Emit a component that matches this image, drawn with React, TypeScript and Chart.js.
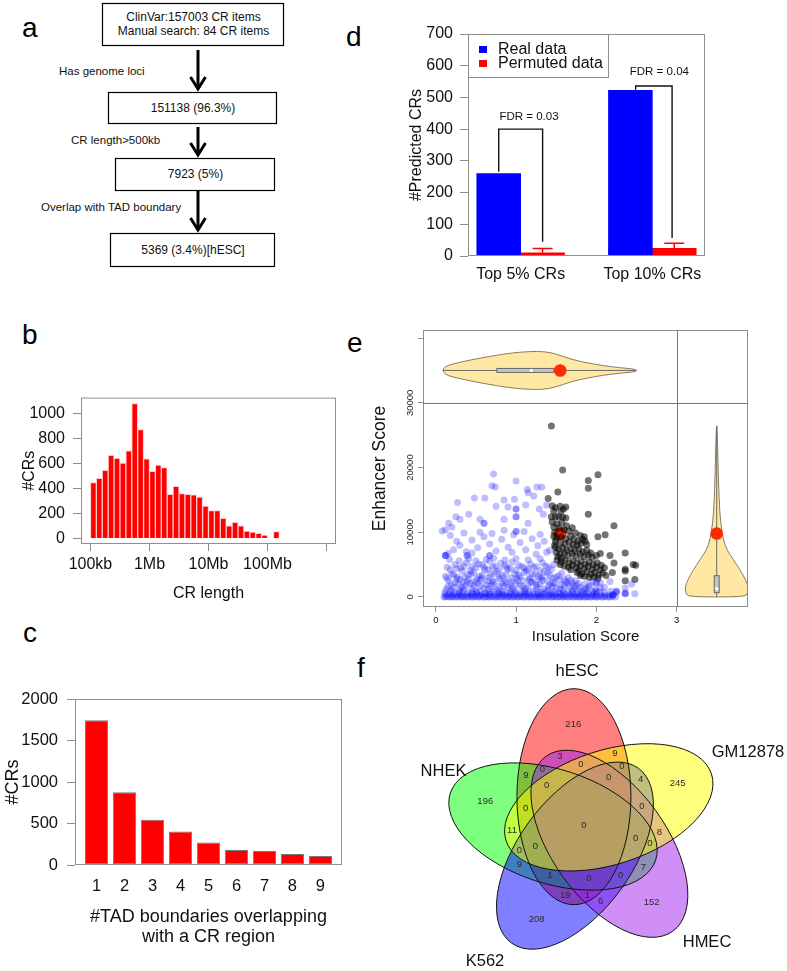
import React, { useEffect, useRef } from 'react';
import { Chart, registerables } from 'chart.js';

Chart.register(...registerables);

const FONT = "'Liberation Sans', Arial, Helvetica, sans-serif";
Chart.defaults.font.family = FONT;
Chart.defaults.color = '#111';

// ---------------- Panel a : flow chart ----------------
const FLOW_BOX_LINES = [
  ['ClinVar:157003 CR items', 'Manual search: 84 CR items'],
  ['151138 (96.3%)'],
  ['7923 (5%)'],
  ['5369 (3.4%)[hESC]'],
];
const FLOW_FILTER_LABELS = ['Has genome loci', 'CR length>500kb', 'Overlap with TAD boundary'];

// ---------------- Panel b : CR length histogram ----------------
const B_BIN_START = [5.0, 5.1, 5.2, 5.3, 5.4, 5.5, 5.6, 5.7, 5.8, 5.9, 6.0, 6.1, 6.2, 6.3, 6.4, 6.5,
  6.6, 6.7, 6.8, 6.9, 7.0, 7.1, 7.2, 7.3, 7.4, 7.5, 7.6, 7.7, 7.8, 7.9, 8.0, 8.1];
const B_BIN_WIDTH = 0.1;
const B_COUNTS = [448, 483, 546, 666, 642, 605, 703, 1080, 873, 639, 538, 589, 568, 355, 419, 361,
  355, 350, 332, 260, 225, 225, 162, 103, 130, 103, 61, 52, 42, 28, 4, 56];
const B_X_TICKS = [5, 6, 7, 8, 9];
const B_X_LABELS = ['100kb', '1Mb', '10Mb', '100Mb', ''];
const B_Y_TICKS = [0, 200, 400, 600, 800, 1000];

// ---------------- Panel c : TAD boundaries per CR ----------------
const C_CATEGORIES = ['1', '2', '3', '4', '5', '6', '7', '8', '9'];
const C_COUNTS = [1745, 877, 545, 404, 271, 182, 170, 133, 109];
const C_Y_TICKS = [0, 500, 1000, 1500, 2000];

// ---------------- Panel d : predicted CRs ----------------
const D_CATEGORIES = ['Top 5% CRs', 'Top 10% CRs'];
const D_GROUP_POS = [2, 5];
const D_SERIES = ['Real data', 'Permuted data'];
const D_REAL = [260, 522];
const D_PERMUTED = [10, 24];
const D_PERMUTED_UPPER = [24, 40];
const D_FDR_TEXT = ['FDR = 0.03', 'FDR = 0.04'];
const D_BRACKET_X = [[1.5, 2.5], [4.62, 5.45]];
const D_BRACKET_TOP = [400, 536];
const D_BRACKET_LEFT_END = [266, 524];
const D_BRACKET_RIGHT_END = [45, 57];
const D_FDR_POS = [[2.19, 438], [5.16, 580]];
const D_Y_TICKS = [0, 100, 200, 300, 400, 500, 600, 700];

// ---------------- Panel e : insulation vs enhancer score ----------------
type Pt = [number, number];
const E_BLUE: Pt[] = [
  [0.10, 0], [0.14, 80], [0.17, 0], [0.21, 50], [0.24, 0], [0.28, 100], [0.31, 0], [0.35, 40], [0.38, 0], [0.42, 90],
  [0.45, 0], [0.49, 60], [0.52, 0], [0.56, 110], [0.59, 0], [0.63, 30], [0.66, 0], [0.70, 80], [0.73, 0], [0.77, 50],
  [0.80, 0], [0.84, 120], [0.87, 0], [0.91, 40], [0.94, 0], [0.98, 90], [1.01, 0], [1.05, 60], [1.08, 0], [1.12, 100],
  [1.15, 0], [1.19, 30], [1.22, 0], [1.26, 80], [1.29, 0], [1.33, 50], [1.36, 0], [1.40, 110], [1.43, 0], [1.47, 40],
  [1.50, 0], [1.54, 90], [1.57, 0], [1.61, 60], [1.64, 0], [1.68, 100], [1.71, 0], [1.75, 30], [1.78, 0], [1.82, 80],
  [1.85, 0], [1.89, 50], [1.92, 0], [1.96, 120], [1.99, 0], [2.03, 40], [2.07, 0], [2.11, 90], [2.15, 0], [2.20, 60], [2.24, 0],
  [0.12, 0], [0.19, 0], [0.26, 0], [0.33, 0], [0.40, 0], [0.47, 0], [0.54, 0], [0.61, 0], [0.68, 0], [0.75, 0],
  [0.82, 0], [0.89, 0], [0.96, 0], [1.03, 0], [1.10, 0], [1.17, 0], [1.24, 0], [1.31, 0], [1.38, 0], [1.45, 0],
  [1.52, 0], [1.59, 0], [1.66, 0], [1.73, 0], [1.80, 0], [1.87, 0], [1.94, 0], [2.01, 0], [2.09, 0], [2.17, 0],
  [2.36, 600], [2.36, 500], [2.36, 550],
  [0.12, 350], [0.16, 420], [0.20, 300], [0.26, 380], [0.30, 450], [0.33, 320], [0.39, 400], [0.44, 350], [0.47, 430], [0.53, 310],
  [0.57, 390], [0.61, 450], [0.65, 340], [0.68, 410], [0.74, 300], [0.79, 380], [0.82, 440], [0.86, 330], [0.92, 400], [0.96, 360],
  [1.00, 450], [1.04, 310], [1.10, 390], [1.13, 430], [1.17, 340], [1.23, 410], [1.27, 300], [1.31, 380], [1.35, 440], [1.41, 330],
  [1.45, 400], [1.49, 360], [1.55, 450], [1.58, 310], [1.62, 390], [1.67, 430], [1.72, 340], [1.76, 410], [1.80, 300], [1.86, 380],
  [1.90, 440], [1.95, 330], [2.00, 400], [2.05, 360], [2.11, 300], [2.20, 350],
  [0.11, 700], [0.18, 850], [0.23, 620], [0.29, 780], [0.34, 900], [0.40, 650], [0.46, 820], [0.51, 700], [0.55, 880], [0.62, 640],
  [0.67, 760], [0.72, 900], [0.78, 680], [0.83, 830], [0.89, 610], [0.93, 750], [0.99, 890], [1.06, 660], [1.11, 800], [1.16, 720],
  [1.21, 870], [1.28, 630], [1.32, 780], [1.38, 900], [1.44, 690], [1.48, 840], [1.53, 620], [1.59, 760], [1.65, 880], [1.70, 700],
  [1.77, 820], [1.83, 650], [1.88, 790], [1.97, 720], [2.04, 860], [2.25, 900], [2.21, 300],
  [0.20, 1000], [0.35, 1300], [0.50, 900], [0.65, 1200], [0.80, 950], [0.95, 1300], [1.10, 1000], [1.25, 1200], [1.40, 950], [1.55, 1250],
  [1.70, 1000], [1.85, 1100], [2.00, 800], [2.10, 700],
  [0.13, 1200], [0.22, 1500], [0.30, 1100], [0.37, 1800], [0.45, 1300], [0.52, 2100], [0.60, 1400], [0.68, 1700], [0.75, 1200], [0.83, 2000],
  [0.90, 1500], [0.97, 1100], [1.05, 1800], [1.12, 1300], [1.20, 2200], [1.27, 1500], [1.35, 1200], [1.42, 1900], [1.50, 1400], [1.58, 1100],
  [1.66, 1700], [1.73, 1300], [1.81, 1000], [1.90, 1500], [1.99, 1200], [2.05, 2200],
  [0.15, 1600], [0.24, 2200], [0.32, 1500], [0.39, 2300], [0.47, 1800], [0.56, 2600], [0.63, 1900], [0.71, 2500], [0.78, 1700], [0.86, 2300],
  [0.93, 1900], [1.02, 2500], [1.08, 1600], [1.18, 2400], [1.25, 1900], [1.33, 2500], [1.40, 1700], [1.48, 2100], [1.56, 1800], [1.64, 2100],
  [1.72, 1600], [1.80, 1500], [1.88, 1300], [1.96, 900],
  [0.16, 2500], [0.26, 2800], [0.34, 2300], [0.41, 2700], [0.49, 2400], [0.57, 2900], [0.64, 2500], [0.72, 2300], [0.79, 2800], [0.87, 2600],
  [0.94, 2300], [1.01, 2900], [1.09, 2500], [1.16, 2700], [1.24, 2400], [1.31, 2900], [1.39, 2600], [1.46, 2300], [1.54, 2700], [1.62, 2400],
  [1.70, 2200], [1.78, 2100], [1.86, 2000], [1.95, 2300],
  [0.19, 1900], [0.28, 2000], [0.43, 2100], [0.55, 1700], [0.70, 2000], [0.85, 1600], [1.00, 2000], [1.15, 1700], [1.30, 2000], [1.45, 1600],
  [1.60, 1900], [1.75, 1800], [1.92, 1800], [2.10, 1500], [2.18, 900], [2.25, 700],
  [0.14, 2900], [0.22, 3400], [0.30, 2700], [0.36, 3100], [0.44, 3600], [0.51, 2800], [0.58, 3400], [0.66, 3000], [0.73, 3600], [0.80, 3100],
  [0.88, 3500], [0.95, 2900], [1.03, 3400], [1.10, 3800], [1.17, 3000], [1.24, 3500], [1.32, 3100], [1.39, 3700], [1.46, 2900], [1.53, 3300],
  [1.60, 2700], [1.68, 2600], [1.74, 2500],
  [0.12, 3200], [0.20, 3600], [0.27, 3100], [0.33, 4000], [0.40, 3400], [0.47, 3800], [0.54, 3200], [0.61, 4200], [0.68, 3500], [0.76, 3900],
  [0.83, 3300], [0.90, 4300], [0.98, 3600], [1.05, 3100], [1.13, 4000], [1.20, 3500], [1.28, 3200], [1.35, 3900], [1.42, 3400], [1.50, 3100],
  [1.57, 3700], [1.65, 3000],
  [0.18, 4200], [0.26, 4400], [0.35, 4800], [0.43, 4100], [0.50, 4500], [0.58, 5000], [0.65, 4300], [0.71, 4600], [0.79, 4200], [0.86, 4900],
  [0.93, 4400], [1.00, 4100], [1.07, 4700], [1.15, 4300], [1.22, 4500], [1.30, 4100], [1.37, 4800], [1.44, 4300],
  [0.14, 4600], [0.24, 5000], [0.31, 4500], [0.38, 5300], [0.45, 4700], [0.53, 5100], [0.60, 4600], [0.67, 5500], [0.74, 4800], [0.81, 5200],
  [0.88, 4600], [0.95, 5400], [1.03, 4900], [1.10, 4500], [1.18, 5100], [1.25, 4700], [1.33, 5300], [1.40, 4600], [1.47, 5000],
  [0.17, 5800], [0.29, 5600], [0.41, 5900], [0.50, 5600], [0.63, 5800], [0.72, 6000], [0.86, 5700], [1.00, 5900], [1.15, 5700], [1.30, 5900],
  [0.12, 6400], [0.12, 6400], [0.12, 6400], [0.39, 6400], [0.39, 6400], [0.67, 6400], [0.67, 6400],
  [0.15, 6700], [0.22, 7300], [0.30, 8000], [0.38, 7000], [0.45, 8800], [0.52, 7600], [0.60, 9300], [0.67, 8200], [0.75, 7100], [0.82, 8900],
  [0.90, 7700], [0.97, 9600], [1.05, 8400], [1.12, 7300], [1.20, 9000], [1.27, 7900], [1.35, 8600], [1.42, 7200], [0.18, 9500], [0.26, 8600],
  [0.35, 9900], [0.55, 10000], [0.70, 9800], [0.85, 10300], [1.10, 10100], [1.30, 9700], [0.12, 10400], [0.20, 10800], [0.08, 10200], [0.45, 6800],
  [0.95, 6900], [1.25, 6600], [1.38, 6900],
  [1.00, 13600], [1.00, 13600], [1.00, 12400], [1.00, 12400], [1.00, 10100], [1.00, 10100], [0.60, 11400], [0.60, 11400],
  [0.72, 19000], [0.70, 17200], [0.74, 17000], [1.00, 17900], [1.14, 16600], [1.15, 16100], [1.26, 17000], [1.32, 17000], [0.27, 14600], [0.48, 15300],
  [0.61, 15300], [0.75, 14000], [0.98, 15100], [1.12, 14200], [1.29, 13600], [1.34, 12800], [0.25, 12400], [0.41, 12800], [0.16, 11400], [0.30, 12000],
  [0.55, 12000], [0.85, 12000], [1.15, 11400], [0.90, 13900], [1.38, 14200], [1.22, 15600], [0.85, 15000],
  [2.00, 2200], [2.00, 2200], [2.05, 1400], [2.17, 2400], [2.36, 1400], [2.44, 2000], [2.48, 500], [2.25, 900], [2.17, 300], [2.21, 300],
];
const E_BLACK: Pt[] = [
  [1.44, 26400], [1.58, 19600], [2.02, 18900], [1.90, 18000], [1.90, 16800], [1.52, 16200], [1.40, 15200], [1.90, 12800], [2.22, 11000], [2.11, 9600], [2.02, 9300],
  [1.45, 14100], [1.49, 13800], [1.55, 14000], [1.59, 13600], [1.62, 13900], [1.47, 13300], [1.56, 13200], [1.44, 12400], [1.49, 12400], [1.53, 12400], [1.58, 12300], [1.62, 12200],
  [1.45, 11600], [1.51, 11300], [1.57, 11500], [1.63, 11000], [1.47, 10800], [1.54, 10600], [1.60, 10400], [1.66, 10200], [1.48, 10000], [1.70, 10700], [1.74, 9900], [1.80, 9500], [1.85, 9300], [1.83, 8900],
  [1.47, 9400], [1.50, 9100], [1.56, 9300], [1.62, 9000], [1.68, 9400], [1.72, 8900], [1.77, 8600], [1.49, 8600], [1.55, 8400], [1.61, 8200], [1.66, 8500], [1.71, 8100], [1.76, 8000], [1.81, 8300], [1.86, 8600], [1.88, 8100], [1.48, 8000],
  [1.49, 7700], [1.53, 7400], [1.58, 7600], [1.63, 7200], [1.68, 7500], [1.73, 7100], [1.78, 7400], [1.83, 7000], [1.88, 7200], [1.93, 6800], [1.50, 6900], [1.55, 6600], [1.60, 6800],
  [1.65, 6400], [1.70, 6700], [1.75, 6300], [1.80, 6600], [1.85, 6200], [1.90, 6500], [1.95, 6100], [2.00, 6400], [1.52, 6200], [1.57, 6000], [2.05, 6700], [2.17, 6400], [2.36, 6800],
  [1.51, 5700], [1.56, 5400], [1.61, 5700], [1.66, 5300], [1.71, 5600], [1.76, 5200], [1.81, 5500], [1.86, 5100], [1.91, 5400], [1.96, 5000], [2.01, 5300], [2.06, 4900],
  [1.55, 5000], [1.60, 4800], [1.65, 4600], [1.70, 4900], [1.75, 4500], [1.80, 4800], [1.85, 4400], [1.90, 4700], [1.95, 4300], [2.00, 4600], [2.05, 4200], [2.10, 4500],
  [2.22, 5250], [2.36, 4300], [2.36, 4000], [2.46, 5000], [2.49, 4900], [1.68, 4200], [1.78, 4100],
  [1.76, 3800], [1.82, 3600], [1.88, 3900], [1.93, 3500], [1.98, 3800], [2.03, 3400], [2.08, 3700], [1.85, 3200], [1.91, 3000], [1.97, 3100], [2.02, 2900], [1.80, 3300],
  [2.12, 3300], [2.20, 3800], [2.48, 2700], [2.36, 2500],
];
const E_HIGHLIGHT: Pt[] = [[1.55, 9800], [1.55, 35000], [3.5, 9800]];
const E_TOP_VIOLIN_CENTER = 35000;
const E_TOP_VIOLIN_X = [0.09, 0.34, 0.55, 0.76, 0.96, 1.17, 1.34, 1.46, 1.59, 1.71, 1.88, 2.09, 2.29, 2.50];
const E_TOP_VIOLIN_HALF = [620, 1390, 1900, 2360, 2730, 2930, 2930, 2670, 2160, 1650, 1190, 730, 420, 200];
const E_TOP_BOX = [0.09, 0.76, 1.19, 1.47, 2.5];
const E_SIDE_VIOLIN_CENTER = 3.5;
const E_SIDE_VIOLIN_Y = [0, 600, 1500, 2670, 4210, 5760, 7300, 8840, 11400, 13980, 19130, 26430];
const E_SIDE_VIOLIN_HALF = [0.35, 0.385, 0.395, 0.36, 0.29, 0.208, 0.125, 0.083, 0.05, 0.034, 0.019, 0.006];
const E_SIDE_BOX = [0, 660, 1280, 3290, 26430];
const E_X_TICKS = [0, 1, 2, 3];
const E_Y_TICKS = [0, 10000, 20000, 30000, 40000];
const E_Y_LABELED = [0, 10000, 20000, 30000];

// ---------------- Panel f : Venn diagram ----------------
const VENN_SETS = ['hESC', 'GM12878', 'HMEC', 'K562', 'NHEK'];
const VENN_COLORS = ['rgba(255,0,0,0.5)', 'rgba(255,255,0,0.5)', 'rgba(160,32,240,0.5)', 'rgba(0,0,255,0.5)', 'rgba(0,255,0,0.5)'];
const VENN_FILL_ORDER = [0, 4, 3, 2, 1];
const VENN_COUNTS = [216, 245, 152, 208, 196, 3, 9, 0, 0, 0, 9, 0, 4, 0, 0, 0, 0, 11, 8, 0, 0, 0, 0, 9, 7, 1, 0, 0, 19, 1, 6];
const VENN_COUNT_POS: Pt[] = [
  [-10.7, 102], [93.7, 42.7], [67.7, -76.7], [-47.3, -93.3], [-98.7, 24.3],
  [-24, 70], [31, 72.7], [-3, 62], [38, 59.3], [-41.7, 56.7], [-58, 51], [24.7, 48.3], [56.7, 46.7], [-37.3, 40.3],
  [58, 20], [-58.3, 17.7], [0, 0.3], [-72, -4], [75.3, -6], [51.7, -12.3], [66, -17.3], [-48.7, -20.7], [-64.7, -24],
  [-64.7, -38.3], [59.3, -41.3], [-34, -49], [36.7, -49], [5, -52.3], [-18.7, -69], [3.3, -69], [16.7, -75],
];
const VENN_SET_LABEL_POS: Pt[] = [[-7, 155], [164, 74], [123, -116], [-99, -135], [-140.5, 55]];
const VENN_GEOM = { offset: 31, semiMajor: 108, semiMinor: 57, offsetAngle: 109, axisAngle: 90, step: -72 };

// ---------------- layout ----------------
const GRID = '#8e8e8e';
const PANEL_B = { left: 0, top: 380, width: 380, height: 230 };
const PANEL_C = { left: 0, top: 660, width: 380, height: 311 };
const PANEL_D = { left: 380, top: 0, width: 407, height: 300 };
const PANEL_E = { left: 360, top: 320, width: 427, height: 330 };
const PANEL_F = { left: 380, top: 650, width: 407, height: 321 };

const PANEL_LETTERS = [
  { t: 'a', x: 22, y: 37 }, { t: 'b', x: 22, y: 344 }, { t: 'c', x: 23, y: 642 },
  { t: 'd', x: 346, y: 46 }, { t: 'e', x: 347, y: 352 }, { t: 'f', x: 357, y: 677 },
];
const FLOW_BOXES = [
  { x: 102, y: 3, w: 181, h: 42 }, { x: 108, y: 92, w: 168, h: 31 },
  { x: 115, y: 158, w: 159, h: 32 }, { x: 110, y: 233, w: 164, h: 33 },
];
const FLOW_ARROWS = [{ y1: 50, y2: 89 }, { y1: 127, y2: 155 }, { y1: 191, y2: 230 }];
const FLOW_ARROW_X = 198;
const FLOW_LABEL_POS = [{ x: 59, y: 71 }, { x: 71, y: 140 }, { x: 41, y: 207 }];

// ---------------- helpers ----------------
function baseOptions(padding: any) {
  return {
    animation: false,
    responsive: false,
    maintainAspectRatio: false,
    devicePixelRatio: 1,
    events: [],
    layout: { padding },
    plugins: { legend: { display: false }, tooltip: { enabled: false }, title: { display: false } },
  };
}

function axis(o: any) {
  return {
    type: 'linear',
    display: true,
    min: o.min,
    max: o.max,
    offset: false,
    afterBuildTicks: (s: any) => { s.ticks = o.ticks.map((v: number) => ({ value: v })); },
    afterFit: (s: any) => {
      if (o.width != null) s.width = o.width;
      if (o.height != null) s.height = o.height;
    },
    grid: {
      display: true, offset: false, drawOnChartArea: false,
      drawTicks: o.tickLength > 0, tickLength: o.tickLength || 0, color: GRID, lineWidth: 1,
    },
    border: { display: false },
    ticks: {
      display: o.showLabels !== false, autoSkip: false, maxRotation: 0, minRotation: 0,
      padding: o.pad || 0, font: { size: o.fontSize || 16 }, color: '#111',
      callback: o.label || ((v: any) => String(v)),
    },
    title: o.title
      ? { display: true, text: o.title, color: '#111', font: { size: o.titleSize, lineHeight: o.titleLH || 1.2 }, padding: o.titlePad }
      : { display: false },
  };
}

const framePlugin = {
  id: 'frame',
  afterDatasetsDraw(chart: any) {
    const { ctx, chartArea: a } = chart;
    ctx.save();
    ctx.strokeStyle = GRID;
    ctx.lineWidth = 1;
    ctx.strokeRect(a.left + 0.5, a.top + 0.5, a.right - a.left - 1, a.bottom - a.top - 1);
    ctx.restore();
  },
};

function smoothClosed(ctx: CanvasRenderingContext2D, pts: number[][]) {
  const n = pts.length;
  const mid = (p: number[], q: number[]) => [(p[0] + q[0]) / 2, (p[1] + q[1]) / 2];
  const m0 = mid(pts[n - 1], pts[0]);
  ctx.beginPath();
  ctx.moveTo(m0[0], m0[1]);
  for (let i = 0; i < n; i++) {
    const p = pts[i];
    const m = mid(p, pts[(i + 1) % n]);
    ctx.quadraticCurveTo(p[0], p[1], m[0], m[1]);
  }
  ctx.closePath();
}

// ---------------- chart builders ----------------
function buildB() {
  return {
    type: 'bar',
    data: {
      datasets: [{
        data: B_BIN_START.map((s, i) => ({ x: s + B_BIN_WIDTH / 2, y: B_COUNTS[i] })),
        backgroundColor: '#ff0000',
        borderColor: '#ffc8c8',
        borderWidth: 1,
        borderSkipped: 'bottom',
        grouped: false,
        barPercentage: 1,
        categoryPercentage: 1,
      }],
    },
    options: {
      ...baseOptions({ top: 17, right: 44, left: 0, bottom: 0 }),
      scales: {
        x: axis({
          min: 4.84, max: 9.16, ticks: B_X_TICKS, tickLength: 7, pad: 4, fontSize: 16, height: 66,
          label: (v: number) => B_X_LABELS[B_X_TICKS.indexOf(v)] ?? '',
          title: 'CR length', titleSize: 16, titlePad: { top: 0, bottom: 7 },
        }),
        y: axis({
          min: -43, max: 1128, ticks: B_Y_TICKS, tickLength: 8, pad: 8, fontSize: 16, width: 81,
          title: '#CRs', titleSize: 16, titlePad: { top: 20, bottom: 0 },
        }),
      },
    },
    plugins: [framePlugin],
  };
}

function buildC() {
  return {
    type: 'bar',
    data: {
      datasets: [{
        data: C_COUNTS.map((v, i) => ({ x: i + 1, y: v })),
        backgroundColor: '#ff0000',
        borderColor: '#777777',
        borderWidth: 1,
        borderSkipped: false,
        grouped: false,
        barPercentage: 0.833,
        categoryPercentage: 1,
      }],
    },
    options: {
      ...baseOptions({ top: 39, right: 38, left: 0, bottom: 0 }),
      scales: {
        x: axis({
          min: 0.23, max: 9.77, ticks: C_CATEGORIES.map((_, i) => i + 1), tickLength: 0, pad: 12, fontSize: 16.5, height: 106,
          label: (v: number) => C_CATEGORIES[v - 1] ?? '',
          title: ['#TAD boundaries overlapping', 'with a CR region'], titleSize: 18, titleLH: 1.1,
          titlePad: { top: 0, bottom: 24 },
        }),
        y: axis({
          min: 0, max: 2000, ticks: C_Y_TICKS, tickLength: 8, pad: 9, fontSize: 16.5, width: 75,
          title: '#CRs', titleSize: 18, titlePad: { top: 2, bottom: 0 },
        }),
      },
    },
    plugins: [framePlugin],
  };
}

const dExtras = {
  id: 'dExtras',
  afterDatasetsDraw(chart: any) {
    const { ctx, chartArea: a, scales: { x, y } } = chart;
    ctx.save();
    ctx.strokeStyle = '#ff0000';
    ctx.lineWidth = 1.5;
    D_PERMUTED.forEach((v, i) => {
      const px = x.getPixelForValue(D_GROUP_POS[i] + 0.5);
      const yt = y.getPixelForValue(D_PERMUTED_UPPER[i]);
      ctx.beginPath();
      ctx.moveTo(px, y.getPixelForValue(v));
      ctx.lineTo(px, yt);
      ctx.moveTo(px - 10, yt);
      ctx.lineTo(px + 10, yt);
      ctx.stroke();
    });
    ctx.strokeStyle = '#111';
    ctx.lineWidth = 1.4;
    D_BRACKET_X.forEach(([x1, x2], i) => {
      const p1 = x.getPixelForValue(x1);
      const p2 = x.getPixelForValue(x2);
      const yt = y.getPixelForValue(D_BRACKET_TOP[i]);
      ctx.beginPath();
      ctx.moveTo(p1, y.getPixelForValue(D_BRACKET_LEFT_END[i]));
      ctx.lineTo(p1, yt);
      ctx.lineTo(p2, yt);
      ctx.lineTo(p2, y.getPixelForValue(D_BRACKET_RIGHT_END[i]));
      ctx.stroke();
    });
    ctx.fillStyle = '#111';
    ctx.font = `11.5px ${FONT}`;
    ctx.textAlign = 'center';
    ctx.textBaseline = 'middle';
    D_FDR_TEXT.forEach((t, i) => {
      ctx.fillText(t, x.getPixelForValue(D_FDR_POS[i][0]), y.getPixelForValue(D_FDR_POS[i][1]));
    });
    ctx.strokeStyle = GRID;
    ctx.lineWidth = 1;
    ctx.strokeRect(a.left + 0.5, a.top + 0.5, 140, 43);
    const colors = ['#0000ff', '#ff0000'];
    ctx.font = `16px ${FONT}`;
    ctx.textAlign = 'left';
    D_SERIES.forEach((name, i) => {
      const cy = a.top + 15.5 + i * 14;
      ctx.fillStyle = colors[i];
      ctx.fillRect(a.left + 11, cy - 3.5, 8, 7);
      ctx.fillStyle = '#111';
      ctx.fillText(name, a.left + 30, cy);
    });
    ctx.restore();
  },
};

function buildD() {
  return {
    type: 'bar',
    data: {
      datasets: [
        {
          label: D_SERIES[0],
          data: D_REAL.map((v, i) => ({ x: D_GROUP_POS[i] - 0.5, y: v })),
          backgroundColor: '#0000ff', borderWidth: 0, grouped: false, barPercentage: 1, categoryPercentage: 1,
        },
        {
          label: D_SERIES[1],
          data: D_PERMUTED.map((v, i) => ({ x: D_GROUP_POS[i] + 0.5, y: v })),
          backgroundColor: '#ff0000', borderWidth: 0, grouped: false, barPercentage: 1, categoryPercentage: 1,
        },
      ],
    },
    options: {
      ...baseOptions({ top: 34, right: 82, left: 0, bottom: 0 }),
      scales: {
        x: axis({
          min: 0.8, max: 6.2, ticks: D_GROUP_POS, tickLength: 0, pad: 9, fontSize: 16, height: 44,
          label: (v: number) => D_CATEGORIES[D_GROUP_POS.indexOf(v)] ?? '',
        }),
        y: axis({
          min: 0, max: 700, ticks: D_Y_TICKS, tickLength: 8, pad: 7, fontSize: 16, width: 88,
          title: '#Predicted CRs', titleSize: 16, titlePad: { top: 27, bottom: 0 },
        }),
      },
    },
    plugins: [framePlugin, dExtras],
  };
}

const eViolins = {
  id: 'eViolins',
  beforeDatasetsDraw(chart: any) {
    const { ctx, chartArea: a, scales: { x, y } } = chart;
    ctx.save();
    ctx.beginPath();
    ctx.rect(a.left, a.top, a.right - a.left, a.bottom - a.top);
    ctx.clip();
    ctx.fillStyle = '#ffe8a3';
    ctx.strokeStyle = '#7d6d52';
    ctx.lineWidth = 0.9;
    const top: number[][] = [];
    E_TOP_VIOLIN_X.forEach((vx, i) => top.push([x.getPixelForValue(vx), y.getPixelForValue(E_TOP_VIOLIN_CENTER + E_TOP_VIOLIN_HALF[i])]));
    for (let i = E_TOP_VIOLIN_X.length - 1; i >= 0; i--) {
      top.push([x.getPixelForValue(E_TOP_VIOLIN_X[i]), y.getPixelForValue(E_TOP_VIOLIN_CENTER - E_TOP_VIOLIN_HALF[i])]);
    }
    smoothClosed(ctx, top);
    ctx.fill();
    ctx.stroke();
    const side: number[][] = [];
    E_SIDE_VIOLIN_Y.forEach((vy, i) => side.push([x.getPixelForValue(E_SIDE_VIOLIN_CENTER - E_SIDE_VIOLIN_HALF[i]), y.getPixelForValue(vy)]));
    for (let i = E_SIDE_VIOLIN_Y.length - 1; i >= 0; i--) {
      side.push([x.getPixelForValue(E_SIDE_VIOLIN_CENTER + E_SIDE_VIOLIN_HALF[i]), y.getPixelForValue(E_SIDE_VIOLIN_Y[i])]);
    }
    smoothClosed(ctx, side);
    ctx.fill();
    ctx.stroke();
    const cy = y.getPixelForValue(E_TOP_VIOLIN_CENTER);
    ctx.strokeStyle = '#6a6a6a';
    ctx.lineWidth = 1;
    ctx.beginPath();
    ctx.moveTo(x.getPixelForValue(E_TOP_BOX[0]), cy);
    ctx.lineTo(x.getPixelForValue(E_TOP_BOX[4]), cy);
    ctx.stroke();
    ctx.fillStyle = '#c4c4c4';
    const q1 = x.getPixelForValue(E_TOP_BOX[1]);
    const q3 = x.getPixelForValue(E_TOP_BOX[3]);
    ctx.fillRect(q1, cy - 2, q3 - q1, 4);
    ctx.strokeRect(q1, cy - 2, q3 - q1, 4);
    ctx.fillStyle = '#ffffff';
    ctx.beginPath();
    ctx.arc(x.getPixelForValue(E_TOP_BOX[2]), cy, 1.6, 0, Math.PI * 2);
    ctx.fill();
    const cx = x.getPixelForValue(E_SIDE_VIOLIN_CENTER);
    ctx.beginPath();
    ctx.moveTo(cx, y.getPixelForValue(E_SIDE_BOX[0]));
    ctx.lineTo(cx, y.getPixelForValue(E_SIDE_BOX[4]));
    ctx.stroke();
    ctx.fillStyle = '#c4c4c4';
    const b1 = y.getPixelForValue(E_SIDE_BOX[1]);
    const b3 = y.getPixelForValue(E_SIDE_BOX[3]);
    ctx.fillRect(cx - 2.5, b3, 5, b1 - b3);
    ctx.strokeRect(cx - 2.5, b3, 5, b1 - b3);
    ctx.fillStyle = '#ffffff';
    ctx.beginPath();
    ctx.arc(cx, y.getPixelForValue(E_SIDE_BOX[2]), 1.6, 0, Math.PI * 2);
    ctx.fill();
    ctx.restore();
  },
  afterDatasetsDraw(chart: any) {
    const { ctx, chartArea: a, scales: { x, y } } = chart;
    ctx.save();
    ctx.strokeStyle = '#777';
    ctx.lineWidth = 1;
    const px = Math.round(x.getPixelForValue(3)) + 0.5;
    const py = Math.round(y.getPixelForValue(30000)) + 0.5;
    ctx.beginPath();
    ctx.moveTo(px, a.top);
    ctx.lineTo(px, a.bottom);
    ctx.moveTo(a.left, py);
    ctx.lineTo(a.right, py);
    ctx.stroke();
    ctx.fillStyle = '#222';
    ctx.font = `9.5px ${FONT}`;
    ctx.textAlign = 'center';
    ctx.textBaseline = 'middle';
    E_Y_LABELED.forEach((v) => {
      ctx.save();
      ctx.translate(a.left - 13, y.getPixelForValue(v));
      ctx.rotate(-Math.PI / 2);
      ctx.fillText(String(v), 0, 0);
      ctx.restore();
    });
    ctx.restore();
  },
};

function buildE() {
  const pts = (arr: Pt[]) => arr.map(([x, y]) => ({ x, y }));
  return {
    type: 'scatter',
    data: {
      datasets: [
        { label: 'other CRs', data: pts(E_BLUE), pointRadius: 3.5, backgroundColor: 'rgba(0,0,255,0.26)', pointBackgroundColor: 'rgba(0,0,255,0.26)', pointBorderWidth: 0, borderWidth: 0 },
        { label: 'predicted CRs', data: pts(E_BLACK), pointRadius: 3.5, backgroundColor: 'rgba(0,0,0,0.55)', pointBackgroundColor: 'rgba(0,0,0,0.55)', pointBorderWidth: 0, borderWidth: 0 },
        { label: 'highlight', data: pts(E_HIGHLIGHT), pointRadius: 6.3, backgroundColor: '#ff2a00', pointBackgroundColor: '#ff2a00', pointBorderWidth: 0, borderWidth: 0 },
      ],
    },
    options: {
      ...baseOptions({ top: 10, right: 39, left: 0, bottom: 0 }),
      scales: {
        x: axis({
          min: -0.16, max: 3.89, ticks: E_X_TICKS, tickLength: 5, pad: 3, fontSize: 9.5, height: 43,
          title: 'Insulation Score', titleSize: 15, titlePad: { top: 0, bottom: 4 },
        }),
        y: axis({
          min: -1550, max: 41250, ticks: E_Y_TICKS, tickLength: 5, showLabels: false, width: 63,
          title: 'Enhancer Score', titleSize: 17.5, titlePad: { top: 9.5, bottom: 0 },
        }),
      },
    },
    plugins: [framePlugin, eViolins],
  };
}

const vennPlugin = {
  id: 'venn',
  beforeDatasetsDraw(chart: any) {
    const { ctx, scales: { x, y } } = chart;
    const ux = x.getPixelForValue(1) - x.getPixelForValue(0);
    const uy = y.getPixelForValue(0) - y.getPixelForValue(1);
    const rad = Math.PI / 180;
    const shapes = VENN_SETS.map((_, k) => {
      const off = (VENN_GEOM.offsetAngle + VENN_GEOM.step * k) * rad;
      const rot = (VENN_GEOM.axisAngle + VENN_GEOM.step * k) * rad;
      return {
        cx: x.getPixelForValue(VENN_GEOM.offset * Math.cos(off)),
        cy: y.getPixelForValue(VENN_GEOM.offset * Math.sin(off)),
        rot,
      };
    });
    const path = (k: number) => {
      const s = shapes[k];
      ctx.beginPath();
      ctx.ellipse(s.cx, s.cy, VENN_GEOM.semiMajor * ux, VENN_GEOM.semiMinor * uy, -s.rot, 0, Math.PI * 2);
    };
    ctx.save();
    VENN_FILL_ORDER.forEach((k) => {
      path(k);
      ctx.fillStyle = VENN_COLORS[k];
      ctx.fill();
    });
    ctx.strokeStyle = '#111';
    ctx.lineWidth = 1;
    VENN_FILL_ORDER.forEach((k) => {
      path(k);
      ctx.stroke();
    });
    ctx.fillStyle = '#2a2a2a';
    ctx.font = `9.5px ${FONT}`;
    ctx.textAlign = 'center';
    ctx.textBaseline = 'middle';
    VENN_COUNTS.forEach((c, i) => {
      ctx.fillText(String(c), x.getPixelForValue(VENN_COUNT_POS[i][0]), y.getPixelForValue(VENN_COUNT_POS[i][1]));
    });
    ctx.fillStyle = '#111';
    ctx.font = `16.5px ${FONT}`;
    VENN_SETS.forEach((name, i) => {
      ctx.fillText(name, x.getPixelForValue(VENN_SET_LABEL_POS[i][0]), y.getPixelForValue(VENN_SET_LABEL_POS[i][1]));
    });
    ctx.restore();
  },
};

function buildF() {
  return {
    type: 'scatter',
    data: {
      datasets: [{ data: VENN_COUNT_POS.map(([x, y]) => ({ x, y })), pointRadius: 0, borderWidth: 0 }],
    },
    options: {
      ...baseOptions(0),
      scales: {
        x: { type: 'linear', display: false, min: -204, max: 203 },
        y: { type: 'linear', display: false, min: -145, max: 176 },
      },
    },
    plugins: [vennPlugin],
  };
}

// ---------------- components ----------------
function ChartCanvas({ box, build }: { box: any; build: () => any }) {
  const ref = useRef<HTMLCanvasElement>(null);
  useEffect(() => {
    const chart = new Chart(ref.current as HTMLCanvasElement, build() as any);
    return () => chart.destroy();
  }, [build]);
  return (
    <canvas
      ref={ref}
      width={box.width}
      height={box.height}
      style={{ position: 'absolute', left: box.left, top: box.top, width: box.width, height: box.height }}
    />
  );
}

function FlowChart() {
  return (
    <svg width={787} height={971} style={{ position: 'absolute', left: 0, top: 0 }} fontFamily={FONT}>
      {PANEL_LETTERS.map((p) => (
        <text key={p.t} x={p.x} y={p.y} fontSize={28} fill="#000">{p.t}</text>
      ))}
      {FLOW_BOXES.map((b, i) => {
        const lines = FLOW_BOX_LINES[i];
        const cy = b.y + b.h / 2;
        return (
          <g key={i}>
            <rect x={b.x + 0.5} y={b.y + 0.5} width={b.w} height={b.h} fill="#fff" stroke="#000" strokeWidth={1.2} />
            {lines.map((t, j) => (
              <text key={j} x={b.x + b.w / 2 + 1} y={cy + (j - (lines.length - 1) / 2) * 13.5} fontSize={12}
                textAnchor="middle" dominantBaseline="central" fill="#111">{t}</text>
            ))}
          </g>
        );
      })}
      {FLOW_ARROWS.map((a, i) => (
        <g key={i} stroke="#000" strokeWidth={3} fill="none">
          <line x1={FLOW_ARROW_X} y1={a.y1} x2={FLOW_ARROW_X} y2={a.y2 - 1} />
          <polyline points={`${FLOW_ARROW_X - 7.5},${a.y2 - 12} ${FLOW_ARROW_X},${a.y2} ${FLOW_ARROW_X + 7.5},${a.y2 - 12}`} />
        </g>
      ))}
      {FLOW_FILTER_LABELS.map((t, i) => (
        <text key={t} x={FLOW_LABEL_POS[i].x} y={FLOW_LABEL_POS[i].y} fontSize={11.5} dominantBaseline="central" fill="#111">{t}</text>
      ))}
    </svg>
  );
}

export default function App() {
  return (
    <div style={{ position: 'absolute', left: 0, top: 0, width: 787, height: 971, background: '#fff', overflow: 'hidden' }}>
      <FlowChart />
      <ChartCanvas box={PANEL_D} build={buildD} />
      <ChartCanvas box={PANEL_B} build={buildB} />
      <ChartCanvas box={PANEL_E} build={buildE} />
      <ChartCanvas box={PANEL_C} build={buildC} />
      <ChartCanvas box={PANEL_F} build={buildF} />
    </div>
  );
}
